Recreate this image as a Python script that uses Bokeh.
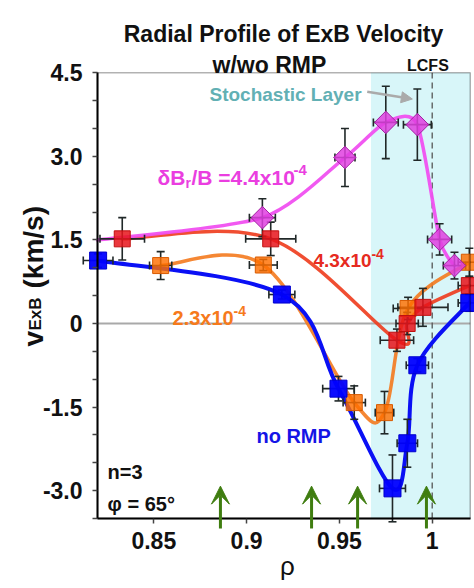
import numpy as np
from bokeh.plotting import figure
from bokeh.models import (Range1d, FixedTicker, Label, Arrow, VeeHead, NormalHead,
                          BoxAnnotation, ColumnDataSource)
from bokeh.embed import file_html
from bokeh.resources import INLINE

# ---------------- data ----------------
# no RMP (blue)
blue_rho = [0.820, 0.919, 0.9495, 0.9786, 0.9866, 0.992, 1.020]
blue_v = [1.13, 0.52, -1.17, -2.96, -2.15, -0.75, 0.37]
blue_xerr = [0.008, 0.007, 0.0085, 0.007, 0.0055, 0.006, 0.006]
blue_yerr = [0.12, 0.08, 0.22, 0.60, 0.43, 0.12, 0.15]

# dBr/B = 2.3e-4 (orange)
orange_rho = [0.8537, 0.909, 0.958, 0.9743, 0.987, 1.020]
orange_v = [1.04, 1.05, -1.42, -1.60, 0.27, 1.10]
orange_xerr = [0.006, 0.0075, 0.006, 0.005, 0.008, 0.006]
orange_yerr = [0.25, 0.10, 0.30, 0.38, 0.20, 0.25]

# dBr/B = 4.3e-4 (red)
red_rho = [0.833, 0.913, 0.981, 0.9865, 0.995, 1.020]
red_v = [1.52, 1.52, -0.30, 0.00, 0.29, 0.68]
red_xerr = [0.012, 0.0135, 0.009, 0.006, 0.0135, 0.006]
red_yerr = [0.38, 0.30, 0.20, 0.20, 0.34, 0.15]

# dBr/B = 4.4e-4 (magenta); the curve starts at the left edge without a marker
magenta_start_rho = 0.8197
magenta_start_v = 1.50
magenta_rho = [0.9085, 0.953, 0.975, 0.992, 1.004, 1.012]
magenta_v = [1.90, 2.98, 3.61, 3.57, 1.51, 1.04]
magenta_xerr = [0.007, 0.0054, 0.0067, 0.0075, 0.0065, 0.006]
magenta_yerr = [0.34, 0.52, 0.65, 0.64, 0.28, 0.24]

# rational-surface arrows
arrow_rho = [0.8859, 0.935, 0.9598, 0.9969]

stochastic_start = 0.967
lcfs_rho = 1.0

# axes extent
rho_min, rho_max = 0.8197, 1.0205
v_min, v_max = -3.5, 4.5

x_ticks = [0.85, 0.9, 0.95, 1]
x_tick_labels = ["0.85", "0.9", "0.95", "1"]
y_ticks = [-3, -1.5, 0, 1.5, 3, 4.5]
y_tick_labels = ["-3.0", "-1.5", "0", "1.5", "3.0", "4.5"]
y_minor = [-3.5, -2.5, -2.0, -1.0, -0.5, 0.5, 1.0, 2.0, 2.5, 3.5, 4.0]

FONT = "Liberation Sans"

# the frame covers the whole canvas; the axes sit at fixed data locations
p = figure(width=474, height=588, output_backend="svg", toolbar_location=None,
           x_range=Range1d(0.767403, 1.022791), y_range=Range1d(-4.7576, 5.7989),
           min_border_left=0, min_border_right=0, min_border_top=0, min_border_bottom=0,
           title=None)
p.xgrid.visible = False
p.ygrid.visible = False
p.outline_line_color = None
p.background_fill_color = "white"
p.border_fill_color = "white"

p.xaxis.fixed_location = v_min
p.yaxis.fixed_location = rho_min
p.xaxis.bounds = (rho_min, rho_max)
p.yaxis.bounds = (v_min, v_max)

for ax in (p.xaxis[0], p.yaxis[0]):
    ax.axis_line_width = 2
    ax.axis_line_color = "black"
    ax.major_tick_in = 0
    ax.major_tick_out = 5
    ax.minor_tick_in = 0
    ax.minor_tick_out = 5
    ax.major_tick_line_color = "#444444"
    ax.minor_tick_line_color = "#444444"
    ax.major_tick_line_width = 1.5
    ax.minor_tick_line_width = 1.5
    ax.major_label_text_font = FONT
    ax.major_label_text_font_style = "bold"
    ax.major_label_text_font_size = "23px"
    ax.major_label_text_color = "#111111"

p.xaxis.major_label_standoff = 9
p.yaxis.major_label_standoff = 10
p.xaxis.ticker = FixedTicker(ticks=x_ticks, minor_ticks=[])
p.xaxis.major_label_overrides = {t: l for t, l in zip(x_ticks, x_tick_labels)}
p.yaxis.ticker = FixedTicker(ticks=y_ticks, minor_ticks=y_minor)
p.yaxis.major_label_overrides = {t: l for t, l in zip(y_ticks, y_tick_labels)}

# stochastic layer shading
p.add_layout(BoxAnnotation(left=stochastic_start, right=rho_max, bottom=v_min, top=v_max,
                           fill_color="#d8f6f9", fill_alpha=1.0, line_alpha=0,
                           level="underlay"))
# zero line
p.segment(x0=[rho_min], y0=[0], x1=[rho_max], y1=[0], line_color="#a9a9a9", line_width=2)
# LCFS
p.segment(x0=[lcfs_rho], y0=[v_min], x1=[lcfs_rho], y1=[v_max], line_color="#555555",
          line_width=1.3, line_dash="6 4")


def smooth(x, y, color, width, alpha=1.0, k=1.0 / 6.0):
    x = np.asarray(x, float)
    y = np.asarray(y, float)
    n = len(x)
    x0, y0, x1, y1, cx0, cy0, cx1, cy1 = ([] for _ in range(8))
    for i in range(n - 1):
        a = max(i - 1, 0)
        d = min(i + 2, n - 1)
        x0.append(x[i]); y0.append(y[i]); x1.append(x[i + 1]); y1.append(y[i + 1])
        cx0.append(x[i] + (x[i + 1] - x[a]) * k)
        cy0.append(y[i] + (y[i + 1] - y[a]) * k)
        cx1.append(x[i + 1] - (x[d] - x[i]) * k)
        cy1.append(y[i + 1] - (y[d] - y[i]) * k)
    p.bezier(x0=x0, y0=y0, x1=x1, y1=y1, cx0=cx0, cy0=cy0, cx1=cx1, cy1=cy1,
             line_color=color, line_width=width, line_alpha=alpha, line_cap="round")


def errorbars(rho, v, xerr, yerr):
    rho = np.asarray(rho); v = np.asarray(v)
    xerr = np.asarray(xerr); yerr = np.asarray(yerr)
    src = ColumnDataSource(dict(x=rho, y=v, xl=rho - xerr, xr=rho + xerr,
                                yl=v - yerr, yh=v + yerr))
    ec = "#202828"
    p.segment(x0="x", y0="yl", x1="x", y1="yh", source=src, line_color=ec, line_width=1.6)
    p.segment(x0="xl", y0="y", x1="xr", y1="y", source=src, line_color=ec, line_width=1.6)
    p.scatter(x="x", y="yl", source=src, marker="dash", size=8, line_color=ec, line_width=1.6)
    p.scatter(x="x", y="yh", source=src, marker="dash", size=8, line_color=ec, line_width=1.6)
    p.scatter(x="xl", y="y", source=src, marker="dash", angle=np.pi / 2, size=8,
              line_color=ec, line_width=1.6)
    p.scatter(x="xr", y="y", source=src, marker="dash", angle=np.pi / 2, size=8,
              line_color=ec, line_width=1.6)


# curves
smooth(orange_rho, orange_v, "#f47a1e", 3.5, 0.9)
smooth(red_rho, red_v, "#ee3b1c", 3.5, 0.9)
smooth(blue_rho, blue_v, "#0a10f5", 4)
smooth([magenta_start_rho] + magenta_rho, [magenta_start_v] + magenta_v, "#f050f0", 3.5,
       0.95, k=1.0 / 8.0)

# error bars
errorbars(orange_rho, orange_v, orange_xerr, orange_yerr)
errorbars(red_rho, red_v, red_xerr, red_yerr)
errorbars(blue_rho, blue_v, blue_xerr, blue_yerr)
errorbars(magenta_rho, magenta_v, magenta_xerr, magenta_yerr)

# markers
p.scatter(orange_rho, orange_v, marker="square", size=16, fill_color="#ff6f00",
          fill_alpha=0.82, line_color="#d85a00", line_width=1)
p.scatter(red_rho, red_v, marker="square", size=16, fill_color="#e8141b",
          fill_alpha=0.85, line_color="#c01010", line_width=1)
p.scatter(blue_rho, blue_v, marker="square", size=17, fill_color="#0000ff",
          fill_alpha=0.95, line_color="#0000cc", line_width=1)
p.scatter(magenta_rho, magenta_v, marker="square", angle=np.pi / 4, size=16,
          fill_color="#e040e0", fill_alpha=0.85, line_color="#a020a0", line_width=1)

# frame (top and right sides; left and bottom are the axes)
p.add_layout(BoxAnnotation(left=rho_min, right=rho_max, bottom=v_min, top=v_max,
                           fill_alpha=0, line_color="black", line_width=1.5))

# rational-surface arrows
green = "#3f7d10"
for r in arrow_rho:
    p.add_layout(Arrow(end=VeeHead(size=18, fill_color=green, line_color=green),
                       x_start=r, y_start=-3.68, x_end=r, y_end=-2.92,
                       line_color=green, line_width=3))

# stochastic layer pointer
p.add_layout(Arrow(end=NormalHead(size=11, fill_color="#aaaaaa", line_color="#aaaaaa"),
                   x_start=0.965, y_start=4.16, x_end=0.9893, y_end=4.03,
                   line_color="#aaaaaa", line_width=2.5))


def lab(x, y, text, size, color="#111111", style="bold", align="left", dx=0, dy=0,
        angle=0.0, font=FONT):
    p.add_layout(Label(x=x, y=y, text=text, text_font=font, text_font_size=f"{size}px",
                       text_font_style=style, text_color=color, text_align=align,
                       text_baseline="alphabetic", x_offset=dx, y_offset=dy, angle=angle))


# title
lab(0.9199, 5.206, "Radial Profile of ExB Velocity", 23, align="center")
lab(0.9123, 4.632, "w/wo RMP", 23, align="center")
lab(0.9977, 4.64, "LCFS", 16, align="center")
lab(0.8800, 4.111, "Stochastic Layer", 19, color="#62b0b4")

# series annotations
mag = "#ea3ee0"
lab(0.8520, 2.621, "\u03b4B", 21, color=mag)
lab(0.8520, 2.621, "r", 14, color=mag, dx=28, dy=-5)
lab(0.8520, 2.621, "/B =4.4x10", 21, color=mag, dx=34)
lab(0.8520, 2.621, "-4", 15, color=mag, dx=136, dy=8)

redc = "#e62a20"
lab(0.9360, 1.131, "4.3x10", 19, color=redc)
lab(0.9360, 1.131, "-4", 14, color=redc, dx=58, dy=7)

orc = "#f67a1c"
lab(0.8601, 0.090, "2.3x10", 20, color=orc)
lab(0.8601, 0.090, "-4", 14, color=orc, dx=61, dy=7)

lab(0.9053, -2.011, "no RMP", 20, color="#1414e6")
lab(0.8251, -2.675, "n=3", 20)
lab(0.8251, -3.232, "\u03c6 = 65\u00b0", 20)

# axis titles
lab(0.9220, -4.36, "\u03c1", 26, style="normal", align="center")
lab(0.7852, -0.413, "v", 28, angle=np.pi / 2)
lab(0.7852, -0.413, "ExB", 17, angle=np.pi / 2, dx=2, dy=16)
lab(0.7852, -0.413, "(km/s)", 28, angle=np.pi / 2, dy=58)

open("out.html", "w").write(file_html(p, INLINE))
